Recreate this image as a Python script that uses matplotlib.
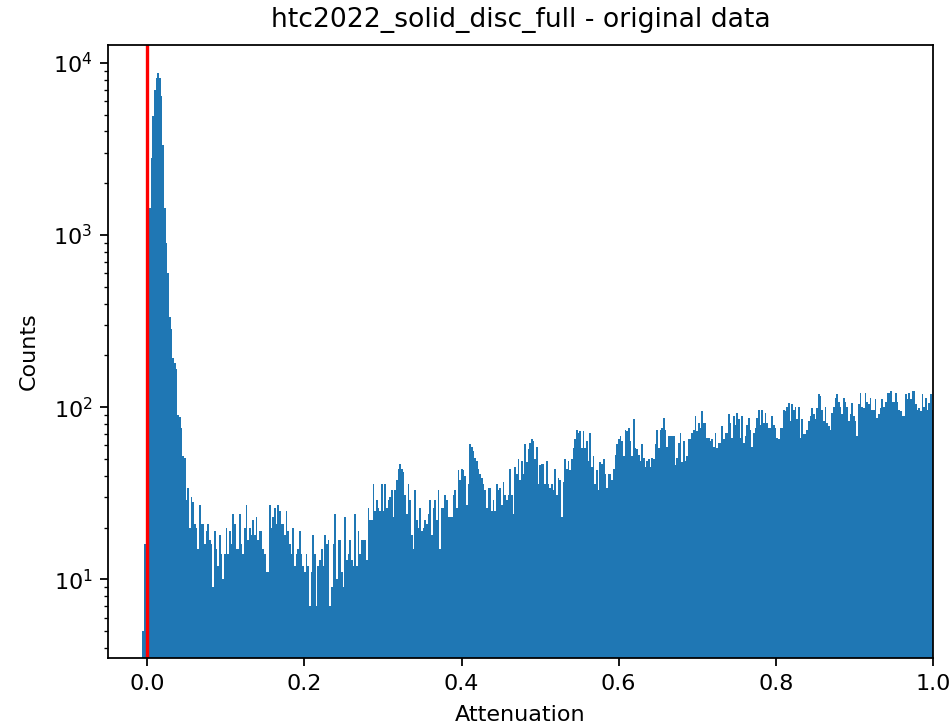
import numpy as np
import matplotlib
matplotlib.use("Agg")
import matplotlib.pyplot as plt

# histogram counts, left to right
peak_counts = [5, 16, 150, 621, 1430, 2790, 4900, 6960, 8170, 8700, 8170, 6430, 3330, 1440, 904, 603,
               336, 286, 192, 180, 166, 90, 88, 76, 52, 51, 29, 34, 20, 30, 28, 21, 20, 15, 27, 21,
               21, 16, 19, 21]
counts_a = [17, 16, 9, 19, 15, 12, 18, 14, 10, 14, 20, 14, 19, 16, 24, 21, 15, 15, 24, 16,
            14, 20, 27, 17, 20, 18, 22, 18, 23, 17, 19, 19, 15, 14, 11, 11, 27, 20, 23, 26,
            21, 27, 25, 21, 21, 18, 25, 19, 16, 14, 20, 12, 14, 15, 19, 14, 12, 11, 14, 12,
            7, 11, 18, 14, 7, 12, 13, 15, 12, 18, 16, 17, 7, 9, 16, 24, 10, 17, 17, 11,
            9, 23, 13, 14]
counts_b = [17, 13, 12, 24, 12, 19, 14, 17, 17, 17, 13, 26, 22, 22, 36, 25, 29, 26, 25, 36,
            25, 36, 26, 29, 30, 33, 23, 33, 38, 44, 47, 44, 42, 31, 24, 36, 29, 18, 15, 33,
            22, 20, 26, 19, 20, 22, 21, 24, 29, 18, 26, 29, 22, 33, 15, 26, 26, 31, 29, 23,
            23, 23, 31, 33, 26, 43, 38, 44, 43, 40, 27, 36, 61, 59, 56, 51, 49, 44, 41, 39,
            36, 33, 26, 34]
counts_c = [34, 25, 29, 25, 36, 33, 34, 27, 37, 31, 29, 31, 44, 31, 24, 45, 41, 50, 38, 49,
            41, 61, 48, 57, 62, 65, 64, 50, 59, 36, 46, 47, 47, 36, 49, 36, 34, 36, 33, 44,
            31, 39, 38, 23, 37, 50, 44, 49, 43, 50, 58, 65, 74, 71, 73, 58, 73, 58, 64, 49,
            71, 45, 52, 36, 43, 33, 48, 47, 50, 41, 34, 41, 41, 38, 44, 53, 61, 65, 68, 64,
            52, 74, 73, 76]
counts_d = [64, 52, 85, 58, 57, 53, 49, 61, 51, 45, 49, 50, 45, 51, 50, 61, 74, 58, 74, 76,
            87, 74, 59, 68, 68, 68, 68, 46, 51, 62, 71, 48, 64, 49, 52, 65, 65, 71, 74, 89,
            73, 81, 76, 95, 81, 81, 66, 66, 64, 65, 59, 71, 58, 62, 62, 78, 65, 71, 71, 91,
            81, 66, 89, 79, 93, 85, 66, 89, 62, 68, 79, 87, 74, 59, 71, 76, 87, 97, 79, 97,
            81, 93, 81, 76]
counts_e = [76, 89, 79, 76, 66, 65, 76, 76, 97, 95, 101, 106, 83, 104, 97, 101, 85, 101, 66, 85,
            70, 70, 74, 83, 89, 99, 91, 85, 99, 119, 116, 97, 83, 101, 81, 78, 74, 93, 101, 113,
            119, 108, 101, 91, 113, 108, 101, 83, 91, 106, 89, 83, 68, 104, 121, 101, 99, 121, 108, 104,
            113, 97, 97, 111, 87, 91, 99, 111, 101, 108, 121, 121, 124, 108, 108, 121, 108, 97, 95, 89,
            89, 119, 111, 121, 111, 124, 124, 104, 97, 99, 95, 119, 101, 113, 97, 106, 119, 97]

counts = np.array(peak_counts + counts_a + counts_b + counts_c + counts_d + counts_e, dtype=float)

first_edge = -0.0064
bin_width = 0.002124
edges = first_edge + bin_width * np.arange(len(counts) + 1)

s = 1.6  # reference looks like a default figure scaled up
plt.rcParams.update({
    "font.size": 10 * s,
    "axes.linewidth": 0.8 * s,
    "xtick.major.width": 0.8 * s, "ytick.major.width": 0.8 * s,
    "xtick.minor.width": 0.6 * s, "ytick.minor.width": 0.6 * s,
    "xtick.major.size": 3.5 * s, "ytick.major.size": 3.5 * s,
    "xtick.minor.size": 2 * s, "ytick.minor.size": 2 * s,
    "xtick.major.pad": 3.5 * s, "ytick.major.pad": 3.5 * s,
})

fig = plt.figure(figsize=(9.51, 7.28), dpi=100)
ax = fig.add_axes([0.1136, 0.0962, 0.8674, 0.8420])

ax.hist(edges[:-1], bins=edges, weights=counts, color="#1f77b4")
ax.axvline(0, color="red", linewidth=1.5 * s)

ax.set_yscale("log")
ax.set_xlim(-0.05, 1.0)
ax.set_ylim(3.5, 12700)
ax.set_title("htc2022_solid_disc_full - original data", fontsize=12 * s, pad=13)
ax.set_xlabel("Attenuation", labelpad=8)
ax.set_ylabel("Counts", labelpad=10)

fig.savefig("out.png", dpi=100)
